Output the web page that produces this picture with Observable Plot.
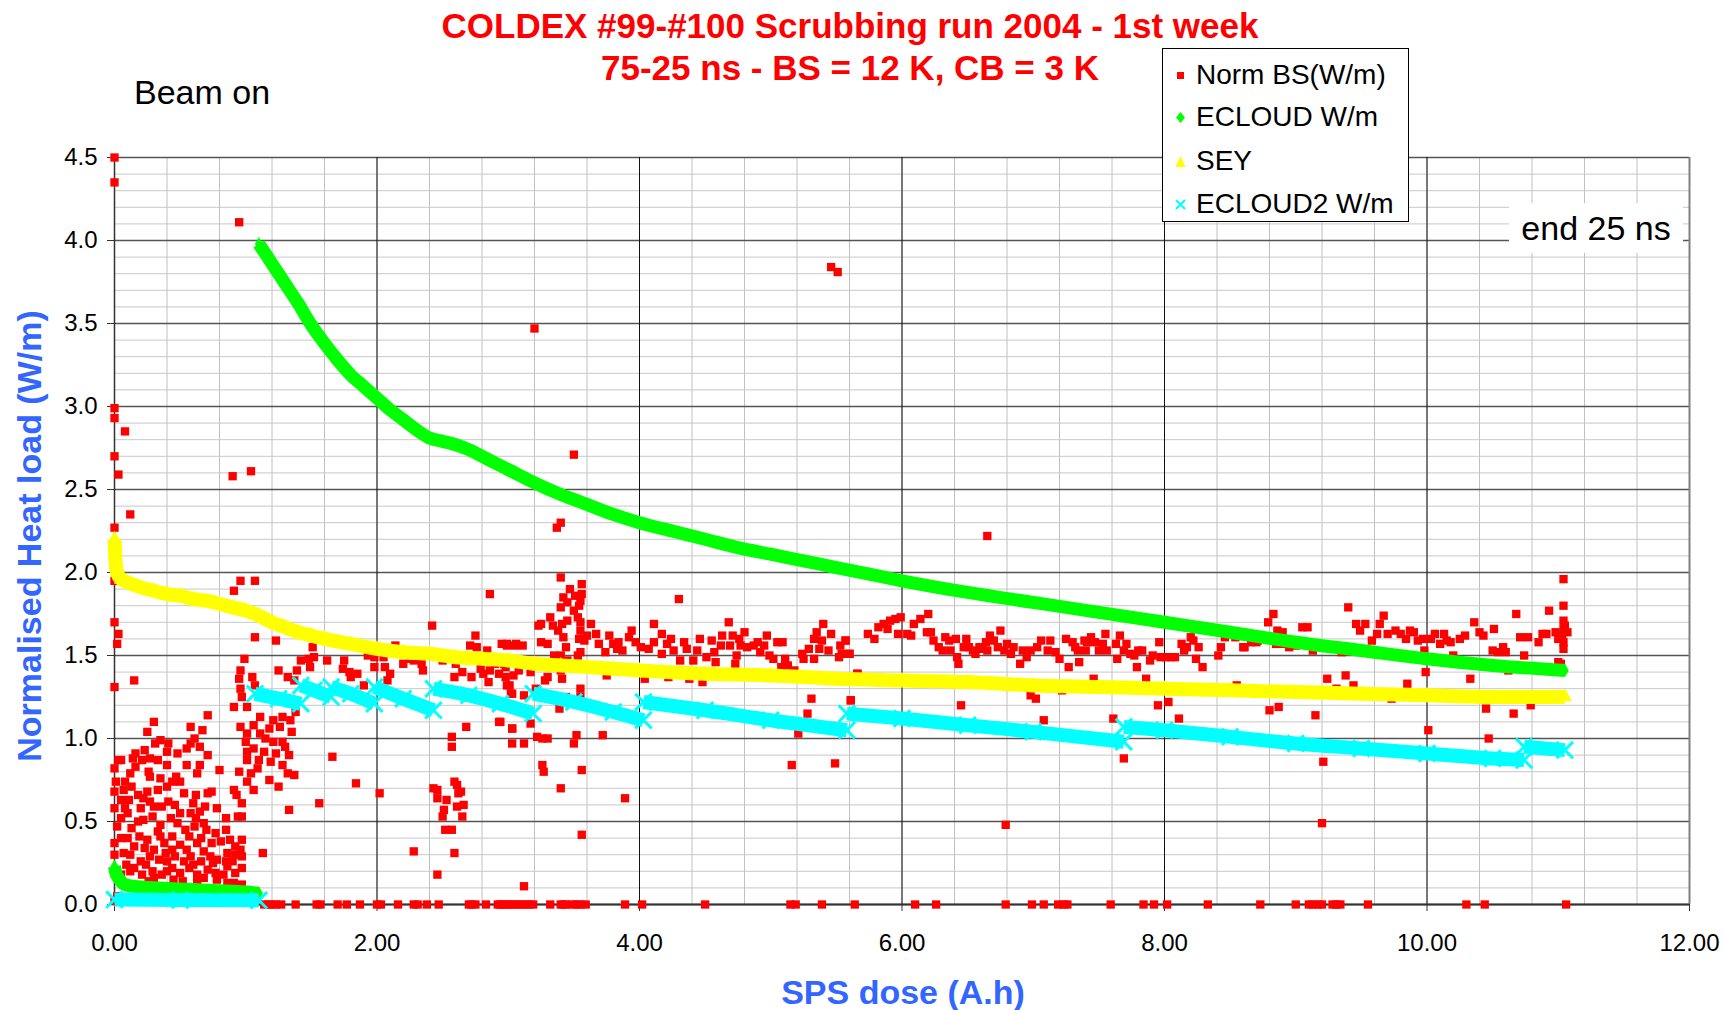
<!DOCTYPE html>
<html>
<head>
<meta charset="utf-8">
<script src="https://cdn.jsdelivr.net/npm/d3@7"></script>
<script src="https://cdn.jsdelivr.net/npm/@observablehq/plot@0.6"></script>
<style>
  body { margin: 0; background: #fff; font-family: "Liberation Sans", Arial, sans-serif; }
  #wrap { position: relative; width: 1725px; height: 1010px; overflow: hidden; }
  .abs { position: absolute; white-space: nowrap; }
  .title { left: 850px; top: 5px; transform: translateX(-50%); text-align: center; color: #ff0000; font-weight: bold; font-size: 35px; line-height: 42px; }
  .beam { left: 134px; top: 72px; font-size: 34px; line-height: 40px; color: #000; }
  .ylab { left: 29px; top: 536px; transform: translate(-50%, -50%) rotate(-90deg); color: #3366ff; font-weight: bold; font-size: 34px; line-height: 40px; }
  .xlab { left: 903px; top: 972px; transform: translateX(-50%); color: #3366ff; font-weight: bold; font-size: 34px; line-height: 40px; }
  .legend { left: 1162px; top: 48px; width: 245px; height: 172px; border: 1px solid #000; background: #fff; }
  .lrow { position: absolute; left: 0; height: 40px; display: flex; align-items: center; font-size: 28px; color: #000; }
  .lrow svg { margin-left: 8px; margin-right: 6px; }
  .endbox { left: 1509px; top: 203px; width: 174px; height: 50px; background: #fff; font-size: 34px; line-height: 50px; text-align: center; color: #000; }
</style>
</head>
<body>
<div id="wrap"></div>
<script>
// ---------------- data ----------------
const xTicks = [0, 2, 4, 6, 8, 10, 12];
const yTicks = [0, 0.5, 1, 1.5, 2, 2.5, 3, 3.5, 4, 4.5];

// Norm BS (W/m): [SPS dose, load]
const normBS = [
  [0,4.50],[0,4.35],[0.95,4.11],[0,2.99],[0,2.93],[0.08,2.85],[0,2.70],[0.03,2.59],[0.90,2.58],[1.04,2.61],
  [0.12,2.35],[0,2.27],[0,1.95],[0,1.70],[0.03,1.63],[0.02,1.57],[0,1.31],[0.15,1.35],[0.91,1.89],[0.96,1.95],
  [1.07,1.95],[1.07,1.61],[1.23,1.59],[0,0.02],[0.02,0.05],
  [0.30,1.10],[0.25,1.04],[0.35,0.99],[0.41,0.97],[0.31,0.97],[0.48,0.91],[0.55,0.94],[0.58,0.97],[0.58,1.07],[0.61,1.00],
  [0.67,1.05],[0.71,1.14],[0.71,0.90],[0.65,0.95],[0.80,0.81],[0.65,0.84],[0.55,0.84],[0.63,0.79],[0.03,0.87],[0.05,0.87],
  [0.16,0.91],[0.23,0.93],[0.21,0.87],[0.27,0.88],[0.33,0.87],[0.16,0.83],[0.12,0.79],[0.26,0.80],[0.27,0.77],[0.35,0.76],
  [0.08,0.74],[0.01,0.74],[0,0.82],[0.44,0.74],[0.47,0.77],[0.50,0.74],[0.40,0.71],[0.33,0.69],[0.25,0.68],[0.13,0.71],
  [0.07,0.69],[0,0.68],[0.05,0.63],[0.11,0.63],[0.22,0.64],[0.53,0.67],[0.60,0.61],[0.71,0.67],[0.74,0.68],[0.69,0.59],
  [0.78,0.58],[0.65,0.56],[0.58,0.55],[0.50,0.55],[0.41,0.62],[0.36,0.59],[0.30,0.59],[0.20,0.58],[0.08,0.58],[0,0.58],
  [0.10,0.55],[0.22,0.51],[0.29,0.53],[0.35,0.48],[0.43,0.52],[0.48,0.49],[0.54,0.45],[0.61,0.47],[0.68,0.49],[0.77,0.43],
  [0.85,0.45],[0.85,0.52],[0.02,0.47],[0.05,0.40],[0.13,0.46],[0.19,0.41],[0.15,0.35],[0.25,0.39],[0.30,0.33],[0.38,0.37],
  [0.44,0.41],[0.50,0.36],[0.57,0.41],[0.63,0.37],[0.68,0.32],[0.74,0.37],[0.81,0.38],[0.88,0.39],[0.92,0.35],[0.97,0.39],
  [0.96,0.33],[0.97,0.29],[0.92,0.30],[0.86,0.31],[0.85,0.26],[0.78,0.27],[0.73,0.29],[0.66,0.26],[0.58,0.29],[0.53,0.26],
  [0.46,0.29],[0.40,0.26],[0.34,0.27],[0.27,0.29],[0.20,0.26],[0.12,0.30],[0.07,0.31],[0,0.30],[0,0.37],[0.15,0.22],
  [0.21,0.18],[0.29,0.20],[0.36,0.18],[0.44,0.22],[0.50,0.19],[0.57,0.22],[0.63,0.18],[0.71,0.21],[0.77,0.19],[0.86,0.23],
  [0.92,0.19],[0.97,0.22],[0.91,0.13],[0.97,0.12],[0.86,0.13],[0.78,0.15],[0.63,0.14],[0.45,0.15],[0.30,0.16],[0.05,0.18],
  [0.09,0.24],[0.24,0.24],[0.39,0.31],[0.55,0.33],[0.70,0.45],[0.33,0.44],[0.18,0.50],[0.62,0.52],[0.40,0.84],[0.18,0.66],
  [0.12,0.20],[0.26,0.14],[0.40,0.20],[0.52,0.14],[0.68,0.16],[0.83,0.18],[0.60,0.24],[0.75,0.25],[0.44,0.33],[0.23,0.34],
  [0.10,0.40],[0.35,0.41],[0.66,0.40],[0.90,0.26],[0.05,0.52],[0.27,0.62],[0.46,0.60],[0.62,0.66],[0.14,0.88],[0.40,0.92],
  [0.99,1.48],[0.96,1.41],[0.95,1.36],[0.96,1.30],[0.97,1.25],[0.91,1.19],[1.01,1.19],[1.05,1.37],[1.07,1.32],[1.25,1.41],
  [1.32,1.37],[1.39,1.41],[1.42,1.47],[1.48,1.48],[1.52,1.49],[1.51,1.55],[1.49,1.43],[1.37,1.35],[1.11,1.13],[1.06,1.08],
  [0.96,1.07],[1.01,1.03],[1.11,1.03],[1.18,1.06],[1.21,1.11],[1.28,1.13],[1.34,1.11],[1.38,1.16],[1.26,1.07],[1.35,1.04],
  [1.21,0.98],[1.28,0.98],[1.00,0.98],[1.01,0.92],[1.06,0.94],[1.14,0.92],[1.23,0.91],[1.33,0.90],[1.01,0.87],[1.10,0.87],
  [1.19,0.86],[1.28,0.84],[0.95,0.80],[1.04,0.79],[1.37,0.78],[1.32,0.79],[1.18,0.75],[1.01,0.74],[1.06,0.69],[1.25,0.71],
  [1.33,0.57],[1.13,0.31],[0.91,0.69],[0.93,0.66],[0.97,0.61],[0.94,0.53],[0.97,0.53],[1.15,1.00],[1.30,0.95],[1.09,0.82],
  [1.66,0.89],[1.84,0.73],[2.02,0.67],[1.56,0.61],[2.28,0.32],[2.46,0.18],
  [2.43,0.70],[2.46,0.69],[2.46,0.64],[2.53,0.63],[2.51,0.57],[2.50,0.53],[2.52,0.45],[2.57,0.45],[2.59,0.31],[2.59,0.74],
  [2.61,0.72],[2.64,0.68],[2.62,0.67],[2.66,0.60],[2.61,0.59],[2.65,0.53],
  [1.62,1.47],[1.75,1.47],[1.74,1.42],[1.79,1.40],[1.85,1.39],[1.80,1.37],[1.90,1.32],[1.93,1.50],[1.98,1.49],[2.05,1.49],
  [1.98,1.43],[2.06,1.43],[2.10,1.39],[2.08,1.35],[2.14,1.56],[2.20,1.45],[2.28,1.47],[2.34,1.45],[2.35,1.41],[2.42,1.68],
  [2.59,1.37],[2.68,1.07],[2.57,1.01],[2.57,0.95],[2.75,1.62],[2.71,1.56],[2.76,1.55],[2.84,1.53],[2.86,1.87],[2.79,1.42],
  [2.81,1.39],[2.85,1.34],[2.86,1.41],[2.93,1.39],[2.95,1.57],[2.99,1.56],[3.05,1.56],[2.93,1.10],[3.03,1.06],[3.03,0.97],
  [2.98,1.43],[3.01,1.32],[3.03,1.27],[2.22,1.52],[2.25,1.48],[2.50,1.47],[2.60,1.45],[2.65,1.40],[2.72,1.37],[2.90,1.45],
  [3.50,2.71],[3.40,2.30],[3.37,2.27],[3.40,1.97],[3.47,1.90],[3.42,1.85],[3.45,1.82],[3.40,1.79],[3.56,1.93],[3.56,1.87],
  [3.55,1.83],[3.51,1.86],[3.54,1.80],[3.50,1.77],[3.53,1.73],[3.32,1.73],[3.55,1.70],[3.45,1.71],[3.41,1.69],[3.25,1.69],
  [3.23,1.68],[3.34,1.68],[3.38,1.65],[3.55,1.65],[3.63,1.69],[3.67,1.63],[3.60,1.62],[3.54,1.60],[3.42,1.61],[3.44,1.55],
  [3.58,1.59],[3.25,1.58],[3.30,1.57],[2.99,1.57],[3.06,1.57],[3.11,1.56],[3.35,1.50],[3.40,1.50],[3.53,1.50],[3.55,1.52],
  [3.45,1.47],[3.32,1.45],[3.25,1.44],[3.17,1.40],[3.69,1.57],[3.77,1.62],[3.74,1.52],[3.80,1.57],[3.84,1.58],[3.83,1.54],
  [3.87,1.53],[3.92,1.61],[3.94,1.65],[3.97,1.58],[4.01,1.55],[4.07,1.54],[4.11,1.69],[4.11,1.58],[4.17,1.63],[4.17,1.51],
  [4.24,1.60],[4.21,1.57],[4.26,1.53],[4.31,1.47],[4.34,1.58],[4.36,1.54],[4.41,1.47],[4.44,1.53],[4.46,1.60],[4.51,1.49],
  [4.55,1.59],[4.57,1.52],[4.58,1.46],[4.62,1.56],[4.63,1.62],[4.68,1.70],[4.69,1.56],[4.71,1.62],[4.73,1.45],[4.74,1.50],
  [4.76,1.60],[4.77,1.56],[4.80,1.64],[4.82,1.55],[4.87,1.56],[4.90,1.58],[4.92,1.52],[4.95,1.56],[4.97,1.62],[4.99,1.50],
  [5.02,1.48],[5.05,1.58],[5.09,1.58],[5.08,1.43],[5.11,1.48],[5.13,1.44],[5.18,1.41],[5.24,1.51],[5.25,1.48],[5.29,1.54],
  [5.33,1.60],[5.35,1.64],[5.37,1.54],[5.33,1.48],[5.39,1.59],[5.40,1.69],[5.44,1.53],[5.46,1.63],[5.52,1.49],[5.53,1.56],
  [5.57,1.59],[5.60,1.51],[5.66,1.39],[4.30,1.84],
  [2.97,1.45],[2.98,1.37],[2.99,1.32],[3.04,1.38],[3.08,1.41],[3.02,1.27],[3.12,1.26],[3.21,1.30],[3.30,1.37],[2.94,1.10],
  [3.03,1.06],[3.17,1.09],[3.12,0.97],[3.22,1.01],[3.26,1.00],[3.30,1.00],[3.27,0.80],[3.26,0.84],[3.40,0.70],[3.56,0.81],
  [3.56,0.42],[3.12,0.11],[3.50,0.97],[3.52,1.02],[3.55,1.25],[3.55,1.30],[3.39,1.18],[3.41,1.36],[3.44,1.25],[3.40,1.41],
  [3.28,1.35],[3.72,1.02],[3.89,0.64],[3.75,1.38],[4.04,1.36],[4.22,1.37],[4.38,1.36],[4.48,1.34],[5.16,0.84],[5.49,0.85],
  [5.21,1.03],[5.28,1.15],[5.31,1.24],[5.61,1.23],[3.20,3.47],[5.46,3.84],[5.51,3.81],[6.65,2.22],
  [5.57,1.59],[5.54,1.51],[5.60,1.51],[5.66,1.39],[5.61,1.23],[5.74,1.63],[5.79,1.60],[5.82,1.67],[5.86,1.69],[5.89,1.66],
  [5.91,1.71],[5.95,1.72],[5.99,1.73],[5.97,1.63],[6.04,1.63],[6.07,1.62],[6.09,1.69],[6.14,1.72],[6.20,1.75],[6.19,1.64],
  [6.22,1.64],[6.24,1.59],[6.28,1.55],[6.31,1.53],[6.33,1.61],[6.36,1.59],[6.37,1.53],[6.41,1.60],[6.42,1.49],[6.43,1.45],
  [6.45,1.20],[6.49,1.60],[6.47,1.55],[6.51,1.55],[6.54,1.53],[6.56,1.51],[6.59,1.55],[6.61,1.54],[6.64,1.58],[6.65,1.53],
  [6.67,1.62],[6.70,1.59],[6.73,1.55],[6.75,1.65],[6.78,1.53],[6.80,1.57],[6.83,1.51],[6.85,1.55],[6.79,0.48],[6.90,1.45],
  [6.92,1.53],[6.95,1.49],[6.98,1.53],[6.98,1.26],[7.02,1.24],[7.03,1.55],[7.06,1.59],[7.08,1.11],[7.11,1.53],[7.13,1.59],
  [7.17,1.52],[7.20,1.48],[7.22,1.29],[7.25,1.60],[7.27,1.43],[7.30,1.58],[7.32,1.55],[7.34,1.53],[7.35,1.46],[7.39,1.59],
  [7.40,1.53],[7.41,1.58],[7.44,1.61],[7.46,1.36],[7.47,1.58],[7.50,1.53],[7.53,1.57],[7.55,1.63],[7.56,1.53],[7.61,1.12],
  [7.63,1.57],[7.64,1.48],[7.66,1.62],[7.69,0.88],[7.69,1.53],[7.71,1.57],[7.74,1.51],[7.77,1.50],[7.79,1.43],[7.80,1.53],
  [7.83,1.53],[7.86,1.36],[7.89,1.47],[7.91,1.50],[7.95,1.20],[7.96,1.58],[7.97,1.49],[8.01,1.49],[8.03,1.22],[8.05,1.49],
  [8.08,1.49],[8.11,1.12],[8.13,1.57],[8.15,1.53],[8.17,1.55],[8.20,1.61],[8.22,1.59],[8.24,1.48],[8.26,1.55],[8.29,1.43],
  [8.41,1.50],[8.43,1.55],[8.46,1.61],[8.54,1.61],[8.55,1.32],[8.61,1.55],[8.71,1.59],
  [8.60,1.55],[8.66,1.58],[8.70,1.58],[8.79,1.70],[8.83,1.75],[8.86,1.65],[8.90,1.64],[8.85,1.57],[8.91,1.57],[8.95,1.55],
  [9.00,1.56],[9.05,1.67],[9.09,1.67],[9.13,1.53],[8.80,1.17],[8.87,1.19],[9.15,1.14],[9.21,0.86],[9.20,0.49],[9.24,1.36],
  [9.31,1.30],[9.35,1.52],[9.38,1.38],[9.40,1.79],[9.44,1.32],[9.46,1.69],[9.49,1.65],[9.53,1.69],[9.58,1.59],[9.62,1.63],
  [9.64,1.69],[9.67,1.74],[9.70,1.63],[9.73,1.24],[9.76,1.65],[9.80,1.63],[9.84,1.60],[9.85,1.33],[9.87,1.65],[9.90,1.64],
  [9.93,1.59],[9.97,1.60],[9.98,1.53],[9.99,1.40],[10.01,1.05],[10.03,1.60],[10.06,1.63],[10.10,1.57],[10.13,1.63],[10.15,1.59],
  [10.18,1.58],[10.20,1.50],[10.25,1.60],[10.29,1.62],[10.33,1.36],[10.36,1.70],[10.40,1.64],[10.43,1.62],[10.45,1.18],[10.47,1.00],
  [10.51,1.66],[10.50,1.53],[10.54,1.52],[10.58,1.55],[10.60,1.52],[10.62,1.41],[10.66,1.15],[10.68,1.75],[10.71,1.61],[10.74,1.50],
  [10.77,1.61],[10.79,1.20],[10.85,1.58],[10.88,1.63],[10.91,1.63],[10.93,1.77],[10.98,1.64],[11.00,1.60],[11.00,1.46],[11.03,1.62],
  [11.04,1.96],[11.04,1.80],[11.04,1.71],[11.04,1.66],[11.04,1.58],[11.04,1.54],[11.05,1.68],[11.07,1.64],[11.02,1.45]
];
// Norm BS points lying on zero (dose values)
const normBSZeroDose = [
  1.14,1.17,1.20,1.23,1.27,1.38,1.54,1.57,1.70,1.77,1.87,2.00,2.03,2.16,2.28,2.31,2.38,2.47,2.70,2.72,2.75,2.83,
  2.92,2.94,2.96,2.99,3.01,3.04,3.07,3.10,3.13,3.16,3.19,3.32,3.40,3.42,3.44,3.49,3.52,3.55,3.59,3.89,4.02,4.50,
  5.15,5.19,5.39,5.64,6.10,6.26,6.79,6.99,7.08,7.19,7.23,7.26,7.59,7.84,7.92,8.02,8.33,8.73,9.00,9.10,9.13,9.17,
  9.20,9.28,9.31,9.34,9.55,10.30,10.44,11.06
];

// ECLOUD W/m
const eCloudLow = [[0,0.23],[0.01,0.19],[0.03,0.16],[0.06,0.13],[0.10,0.115],[0.20,0.105],[0.40,0.097],[0.60,0.09],[0.80,0.083],[1.00,0.075],[1.10,0.068]];
const eCloudHigh = [[1.10,3.98],[1.15,3.92],[1.20,3.86],[1.30,3.74],[1.40,3.62],[1.50,3.49],[1.60,3.38],[1.70,3.28],[1.80,3.19],[1.90,3.12],
  [2.00,3.05],[2.10,2.98],[2.20,2.92],[2.30,2.86],[2.40,2.81],[2.50,2.79],[2.60,2.77],[2.70,2.74],[2.80,2.70],[2.90,2.66],
  [3.00,2.62],[3.20,2.54],[3.40,2.47],[3.60,2.41],[3.80,2.35],[4.00,2.30],[4.25,2.25],[4.50,2.20],[4.75,2.15],[5.00,2.11],
  [5.25,2.07],[5.50,2.03],[5.75,1.99],[6.00,1.95],[6.50,1.88],[7.00,1.82],[7.50,1.76],[8.00,1.70],[8.50,1.64],[9.00,1.58],
  [9.50,1.53],[10.00,1.48],[10.50,1.44],[11.05,1.41]];

// SEY
const sey = [[0,2.20],[0.005,2.12],[0.01,2.05],[0.02,2.00],[0.05,1.96],[0.10,1.94],[0.20,1.91],[0.30,1.89],[0.40,1.87],[0.50,1.86],
  [0.60,1.84],[0.70,1.83],[0.80,1.81],[0.90,1.79],[1.00,1.77],[1.10,1.74],[1.20,1.70],[1.30,1.67],[1.40,1.64],[1.50,1.62],
  [1.60,1.60],[1.80,1.57],[2.00,1.54],[2.20,1.52],[2.40,1.51],[2.60,1.49],[2.80,1.48],[3.00,1.47],[3.20,1.45],[3.40,1.44],
  [3.60,1.43],[3.80,1.42],[4.00,1.41],[4.50,1.39],[5.00,1.38],[5.50,1.36],[6.00,1.35],[6.50,1.34],[7.00,1.32],[7.50,1.31],
  [8.00,1.30],[8.50,1.29],[9.00,1.28],[9.50,1.27],[10.00,1.26],[10.50,1.25],[11.05,1.25]];

// ECLOUD2 W/m (sawtooth segments)
const eCloud2Segments = [
  [[0,0.03],[0.5,0.027],[1.1,0.025]],
  [[1.07,1.27],[1.25,1.24],[1.42,1.21]],
  [[1.42,1.32],[1.52,1.29],[1.65,1.25]],
  [[1.65,1.31],[1.80,1.27],[1.98,1.21]],
  [[1.98,1.31],[2.20,1.24],[2.43,1.17]],
  [[2.43,1.30],[2.70,1.26],[2.94,1.21],[3.19,1.15]],
  [[3.19,1.27],[3.50,1.22],[3.80,1.16],[4.03,1.11]],
  [[4.03,1.22],[4.50,1.17],[5.00,1.11],[5.58,1.05]],
  [[5.58,1.15],[6.00,1.12],[6.50,1.08],[7.00,1.04],[7.69,0.98]],
  [[7.69,1.07],[8.00,1.05],[8.50,1.01],[9.00,0.97],[9.50,0.94],[10.00,0.91],[10.50,0.88],[10.74,0.87]],
  [[10.74,0.95],[11.05,0.93]]
];

// ---------------- build rows ----------------
const bsRows = normBS.map(([x, y]) => ({x, y})).concat(normBSZeroDose.map(x => ({x, y: 0})));
const ecRows = [eCloudLow, eCloudHigh].flatMap((s, i) => s.map(([x, y]) => ({x, y, seg: i})));
const seyRows = sey.map(([x, y]) => ({x, y}));
const ec2Rows = eCloud2Segments.flatMap((s, i) => s.map(([x, y]) => ({x, y, seg: i})));
const xMinor = d3.range(0, 31).map(i => i * 0.4);
const yMinor = d3.range(0, 46).map(i => i / 10);

const chart = Plot.plot({
  width: 1725,
  height: 1010,
  marginLeft: 114,
  marginRight: 36,
  marginTop: 157,
  marginBottom: 106,
  style: {fontFamily: '"Liberation Sans", Arial, sans-serif', fontSize: "24px", color: "#000", background: "transparent", overflow: "visible"},
  x: {domain: [0, 12], label: null},
  y: {domain: [0, 4.5], label: null},
  marks: [
    Plot.ruleX(xMinor, {stroke: "#c0c0c0", strokeWidth: 1}),
    Plot.ruleY(yMinor, {stroke: "#c8c8c8", strokeWidth: 1}),
    Plot.ruleY(yTicks, {stroke: "#555", strokeWidth: 1.3}),
    Plot.ruleX(xTicks.slice(1, -1), {stroke: "#111", strokeWidth: 1}),
    Plot.ruleX([12], {stroke: "#808080", strokeWidth: 2}),
    Plot.ruleX([0], {stroke: "#333", strokeWidth: 1.5}),
    Plot.ruleY([0], {stroke: "#333", strokeWidth: 2}),
    Plot.axisX(xTicks, {tickFormat: d => d.toFixed(2), tickSize: 7, tickPadding: 22, fontSize: 24, stroke: "#333", label: null}),
    Plot.axisY(yTicks, {tickFormat: d => d.toFixed(1), tickSize: 7, tickPadding: 10, fontSize: 24, stroke: "#333", label: null}),
    Plot.dot(bsRows, {x: "x", y: "y", symbol: "square", r: 4.7, fill: "#ff0000"}),
    Plot.line(ecRows, {x: "x", y: "y", z: "seg", curve: "monotone-x", stroke: "#00ff00", strokeWidth: 13, strokeLinecap: "butt"}),
    Plot.dot(ecRows, {x: "x", y: "y", symbol: "diamond", r: 4.2, fill: "#00ff00"}),
    Plot.line(seyRows, {x: "x", y: "y", curve: "monotone-x", stroke: "#ffff00", strokeWidth: 14, strokeLinecap: "butt"}),
    Plot.dot(seyRows, {x: "x", y: "y", symbol: "triangle", r: 5.5, fill: "#ffff00"}),
    Plot.line(ec2Rows, {x: "x", y: "y", z: "seg", curve: "monotone-x", stroke: "#00ffff", strokeWidth: 14, strokeLinecap: "butt"}),
    Plot.dot(ec2Rows, {x: "x", y: "y", symbol: "times", r: 7.5, stroke: "#00ffff", strokeWidth: 3})
  ]
});

const wrap = document.getElementById("wrap");
wrap.appendChild(chart);

function add(cls, html) {
  const d = document.createElement("div");
  d.className = "abs " + cls;
  d.innerHTML = html;
  wrap.appendChild(d);
  return d;
}
add("title", "COLDEX #99-#100 Scrubbing run 2004 - 1st week<br>75-25 ns - BS = 12 K, CB = 3 K");
add("beam", "Beam on");
add("ylab", "Normalised Heat load (W/m)");
add("xlab", "SPS dose (A.h)");
add("endbox", "end 25 ns");

const legendItems = [
  {label: "Norm BS(W/m)", sym: '<rect x="6" y="6" width="7" height="7" fill="#ff0000"/>'},
  {label: "ECLOUD W/m", sym: '<path d="M9.5 4 L14 9.5 L9.5 15 L5 9.5 Z" fill="#00ff00"/>'},
  {label: "SEY", sym: '<path d="M9.5 4 L14.5 15 L4.5 15 Z" fill="#ffff00"/>'},
  {label: "ECLOUD2 W/m", sym: '<path d="M5 5 L14 14 M14 5 L5 14" stroke="#00ffff" stroke-width="2"/>'}
];
const leg = add("legend", "");
const rowTops = [6, 48, 92, 135];
legendItems.forEach((it, i) => {
  const r = document.createElement("div");
  r.className = "lrow";
  r.style.top = rowTops[i] + "px";
  r.innerHTML = `<svg width="19" height="19">${it.sym}</svg><span>${it.label}</span>`;
  leg.appendChild(r);
});
</script>
</body>
</html>
